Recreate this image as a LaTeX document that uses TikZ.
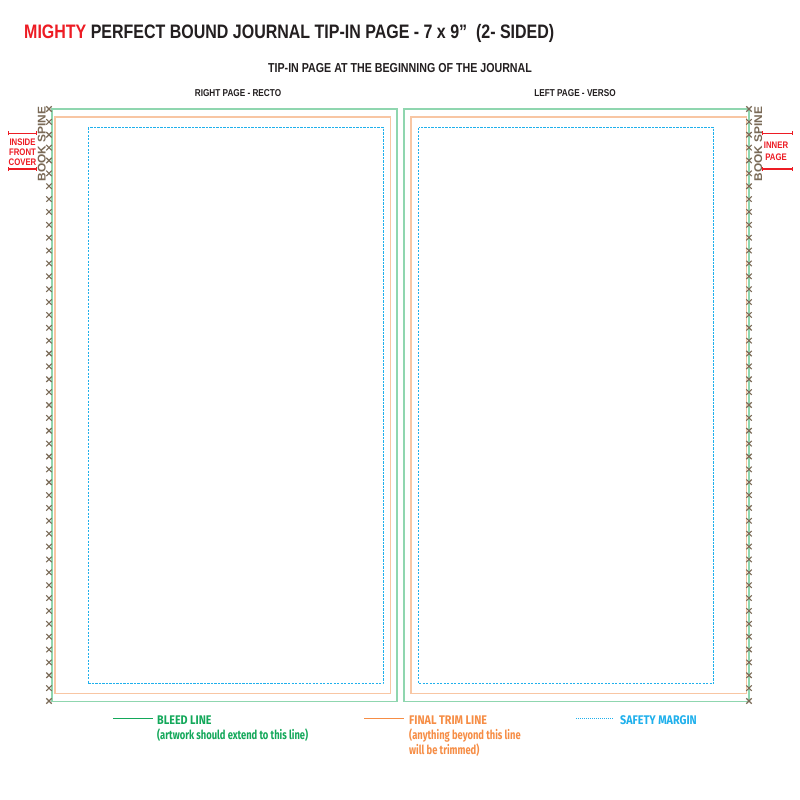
\documentclass[tikz,border=0pt]{standalone}
\usepackage{fontspec}
\usepackage{xcolor}
\usetikzlibrary{arrows.meta}
\newfontfamily\headfont[FakeStretch=0.82]{Liberation Sans}
\newfontfamily\spinefont[FakeStretch=1.06]{Liberation Sans}
\newfontfamily\legendfont[FakeStretch=0.86]{Fira Sans}
\newfontfamily\notefont[FakeStretch=0.75]{Fira Sans}
\definecolor{mightyred}{HTML}{ED1C24}
\definecolor{titleblack}{HTML}{231F20}
\definecolor{bleedgreen}{HTML}{8FD6AF}
\definecolor{legendgreen}{HTML}{13A85A}
\definecolor{trimorange}{HTML}{F8C6A3}
\definecolor{legendorange}{HTML}{F68D45}
\definecolor{safetyblue}{HTML}{1FB0EC}
\definecolor{spinebrown}{HTML}{7A6A57}

\begin{document}
\begin{tikzpicture}[x=1pt,y=-1pt,
    bleed/.style={draw=bleedgreen,line width=1.4pt},
    trim/.style={draw=trimorange,line width=1.4pt},
    safety/.style={draw=safetyblue,line width=0.9pt,dash pattern=on 2.2pt off 1.3pt},
    xmark/.style={draw=spinebrown,line width=1.1pt},
    redbar/.style={draw=mightyred,line width=1.2pt,{Bar[width=4pt]}-{Bar[width=4pt]}},
    spinetext/.style={spinebrown,font=\spinefont\bfseries\fontsize{11.2}{11.2}\selectfont,rotate=90,inner sep=0pt},
    redtext/.style={mightyred,font=\headfont\bfseries\fontsize{9.5}{9.5}\selectfont,anchor=base,inner sep=0pt},
    pagetext/.style={titleblack,font=\headfont\bfseries\fontsize{10}{10}\selectfont,anchor=base,inner sep=0pt},
    legendtext/.style={font=\legendfont\bfseries\fontsize{12.5}{12.5}\selectfont,anchor=base west,inner sep=0pt},
    notetext/.style={font=\notefont\bfseries\fontsize{12.5}{12.5}\selectfont,anchor=base west,inner sep=0pt}]
\useasboundingbox[fill=white] (0,0) rectangle (800,800);

\node[titleblack,anchor=base west,inner sep=0pt,font=\headfont\bfseries\fontsize{19.5}{19.5}\selectfont] (title) at (24,38.5)
    {\textcolor{mightyred}{MIGHTY} PERFECT BOUND JOURNAL TIP-IN PAGE - 7 x 9”~~(2- SIDED)};
\node[titleblack,anchor=base,inner sep=0pt,font=\headfont\bfseries\fontsize{13}{13}\selectfont] (subtitle) at (400,72.5)
    {TIP-IN PAGE AT THE BEGINNING OF THE JOURNAL};
\node[pagetext] (recto) at (238,96) {RIGHT PAGE - RECTO};
\node[pagetext] (verso) at (575,96) {LEFT PAGE - VERSO};

\draw[bleed] (52,109) rectangle (397,701.5);
\draw[trim] (55,117) rectangle (390.5,693.5);
\draw[safety] (88,127.5) rectangle (383,683.5);
\draw[bleed] (404,109) rectangle (749,701.5);
\draw[trim] (411,117) rectangle (746.5,693.5);
\draw[safety] (418.5,127.5) rectangle (713.5,683.5);

\foreach \sx in {49,749}{
    \foreach \i in {0,...,46}{
        \pgfmathsetmacro\sy{109+12.8696*\i}
        \draw[xmark] (\sx-2.7,\sy-2.7) -- (\sx+2.7,\sy+2.7) (\sx-2.7,\sy+2.7) -- (\sx+2.7,\sy-2.7);
    }
}

\node[spinetext] (spineleft) at (41.8,144) {BOOK SPINE};
\node[spinetext] (spineright) at (758.2,144) {BOOK SPINE};

\draw[redbar] (8,133.3) -- (37,133.3);
\draw[redbar] (8,169) -- (37,169);
\node[redtext] (inside) at (22.5,145) {INSIDE};
\node[redtext] (front) at (22.5,155.5) {FRONT};
\node[redtext] (cover) at (22.5,165.8) {COVER};
\draw[redbar] (762,133.3) -- (793,133.3);
\draw[redbar] (762,169) -- (793,169);
\node[redtext] (inner) at (776,148.5) {INNER};
\node[redtext] (page) at (776,160) {PAGE};

\draw[legendgreen,line width=1.3pt] (113,718.3) -- (153,718.3);
\node[legendtext,legendgreen] (bleedlabel) at (157,724) {BLEED LINE};
\node[notetext,legendgreen] (bleednote) at (157,739) {(artwork should extend to this line)};
\draw[legendorange,line width=1.3pt] (364,718.6) -- (404,718.6);
\node[legendtext,legendorange] (trimlabel) at (409,724) {FINAL TRIM LINE};
\node[notetext,legendorange] (trimnote) at (409,739) {(anything beyond this line};
\node[notetext,legendorange] (trimnotetwo) at (409,754) {will be trimmed)};
\draw[safetyblue,line width=0.8pt,dash pattern=on 1pt off 1pt] (576,718) -- (614,718);
\node[legendtext,safetyblue] (safetylabel) at (620,724) {SAFETY MARGIN};
\end{tikzpicture}
\end{document}
